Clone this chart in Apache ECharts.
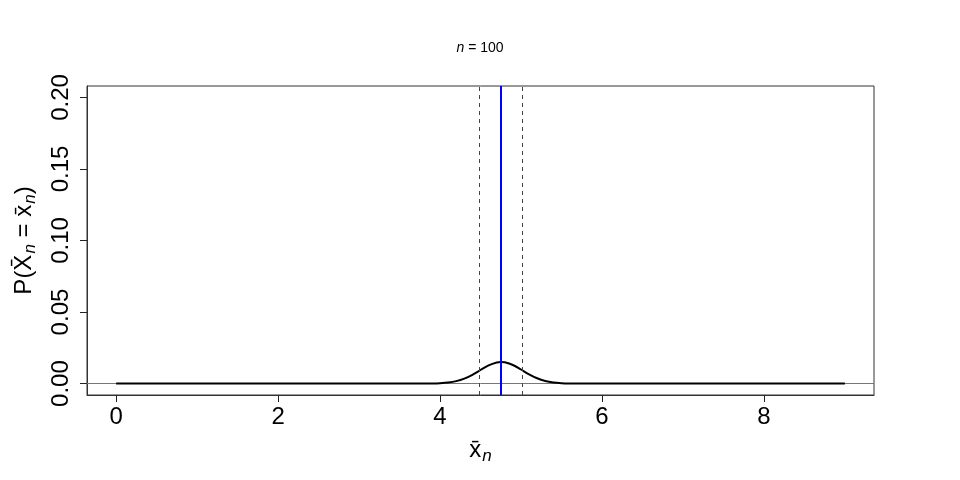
<!DOCTYPE html>
<html>
<head>
<meta charset="utf-8">
<script src="https://cdn.jsdelivr.net/npm/echarts@6/dist/echarts.min.js"></script>
<style>html,body{margin:0;padding:0;background:#fff}#c{width:960px;height:480px}</style>
</head>
<body>
<div id="c"></div>
<script>
// values
const xValues = [0, 1, 2, 3, 3.5, 3.75, 3.9, 4.0, 4.1, 4.2, 4.3, 4.4, 4.5, 4.6, 4.7, 4.75, 4.8, 4.9, 5.0, 5.1, 5.2, 5.3, 5.4, 5.5, 5.6, 5.75, 6.0, 7, 8, 9];
const probValues = [0, 0, 0, 0, 0, 0.00001, 0.00008, 0.00026, 0.00071, 0.00168, 0.00345, 0.00614, 0.00947, 0.01269, 0.01473, 0.01505, 0.01483, 0.01296, 0.00982, 0.00645, 0.00368, 0.00182, 0.00078, 0.00029, 0.00009, 0.00001, 0, 0, 0, 0];
const meanLine = 4.755;
const dashedLines = [4.49, 5.02];
const xTicks = [0, 2, 4, 6, 8];
const yTicks = [0, 0.05, 0.10, 0.15, 0.20];

const chart = echarts.init(document.getElementById('c'), null, {renderer: 'canvas'});
const font = 'Liberation Sans, Arial, Helvetica, sans-serif';
chart.setOption({
  animation: false,
  backgroundColor: '#fff',
  title: {
    text: '{i|n} = 100',
    left: 'center', top: 36,
    textStyle: {fontFamily: font, fontSize: 14, fontWeight: 'normal', color: '#000',
      rich: {i: {fontFamily: font, fontSize: 14, fontStyle: 'italic', color: '#000'}}}
  },
  grid: {left: 86, right: 86, top: 86, bottom: 85, show: true, borderColor: '#333', borderWidth: 1, backgroundColor: 'transparent'},
  xAxis: {
    type: 'value', min: -0.36, max: 9.36, position: 'bottom',
    axisLine: {show: true, onZero: false, lineStyle: {color: '#333', width: 1}},
    splitLine: {show: false},
    axisTick: {show: true, inside: false, length: 7, lineStyle: {color: '#222', width: 1}, customValues: xTicks},
    axisLabel: {fontFamily: font, fontSize: 24, color: '#000', margin: 10, customValues: xTicks, formatter: v => String(v)},
    name: '{m|x\u0304}{s|n}',
    nameLocation: 'middle', nameGap: 24,
    nameTextStyle: {fontFamily: font, fontSize: 24, color: '#000',
      rich: {m: {fontFamily: font, fontSize: 24, color: '#000', lineHeight: 30, verticalAlign: 'middle'},
             s: {fontFamily: font, fontSize: 17, fontStyle: 'italic', color: '#000', lineHeight: 30, verticalAlign: 'bottom', padding: [14, 0, 0, 1]}}}
  },
  yAxis: {
    type: 'value', min: -0.008, max: 0.208, position: 'left',
    axisLine: {show: true, onZero: false, lineStyle: {color: '#333', width: 1}},
    splitLine: {show: false},
    axisTick: {show: true, inside: false, length: 7, lineStyle: {color: '#222', width: 1}, customValues: yTicks},
    axisLabel: {fontFamily: font, fontSize: 24, color: '#000', rotate: 90, margin: 14, customValues: yTicks, formatter: v => v.toFixed(2)},
    name: '{m|P(X\u0304}{s|n}{m| = x\u0304}{s|n}{m|)}',
    nameLocation: 'middle', nameGap: 48, nameRotate: 90,
    nameTextStyle: {fontFamily: font, fontSize: 24, color: '#000',
      rich: {m: {fontFamily: font, fontSize: 24, color: '#000', lineHeight: 30, verticalAlign: 'middle'},
             s: {fontFamily: font, fontSize: 17, fontStyle: 'italic', color: '#000', lineHeight: 30, verticalAlign: 'bottom', padding: [14, 0, 0, 1]}}}
  },
  series: [
    {
      type: 'line', z: 1, data: [], silent: true,
      markLine: {symbol: 'none', silent: true, z: 1, label: {show: false},
        lineStyle: {color: '#777', width: 1, type: 'solid'},
        data: [{yAxis: 0}]}
    },
    {
      type: 'line', z: 3, showSymbol: false, smooth: 0.3,
      data: xValues.map((x, i) => [x, probValues[i]]),
      lineStyle: {color: '#000', width: 2}, itemStyle: {color: '#000'}
    },
    {
      type: 'line', z: 4, data: [], silent: true,
      markLine: {symbol: 'none', silent: true, z: 5, label: {show: false},
        data: [
          {xAxis: dashedLines[0], lineStyle: {color: '#444', width: 1, type: [4, 4]}},
          {xAxis: dashedLines[1], lineStyle: {color: '#444', width: 1, type: [4, 4]}},
          {xAxis: meanLine, lineStyle: {color: '#0000ff', width: 2, type: 'solid'}}
        ]}
    }
  ]
});
</script>
</body>
</html>
